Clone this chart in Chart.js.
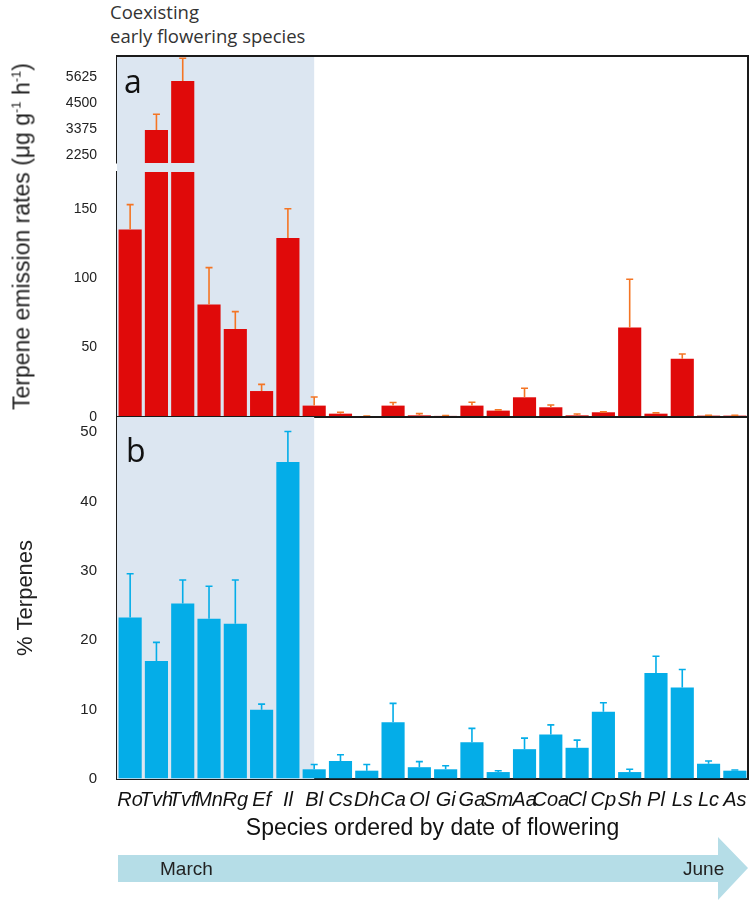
<!DOCTYPE html>
<html>
<head>
<meta charset="utf-8">
<script src="https://cdn.jsdelivr.net/npm/chart.js@4.4.1/dist/chart.umd.min.js"></script>
<style>
  body { margin: 0; background: #fff; }
  #wrap { position: relative; width: 753px; height: 902px; overflow: hidden; font-family: "Liberation Sans", Arial, sans-serif; color: #222; }
  canvas { position: absolute; left: 0; }
  .note { position: absolute; left: 110px; font-family: "Open Sans", sans-serif; font-size: 18.5px; line-height: 24px; color: #333; white-space: nowrap; }
  .panel { position: absolute; font-family: "Open Sans", sans-serif; font-size: 32px; line-height: 32px; color: #111; }
  #ytitleA { position: absolute; width: 420px; left: -191px; top: 221px; text-align: center; font-size: 23px; line-height: 26px; transform: rotate(-90deg); white-space: nowrap; }
  #ytitleA sup { font-size: 13px; vertical-align: 9px; }
  #arrow { position: absolute; left: 0; top: 830px; }
</style>
</head>
<body>
<div id="wrap">
  <div class="note" style="top:0px">Coexisting</div>
  <div class="note" style="top:24px">early flowering species</div>
  <canvas id="chartTop" width="753" height="119" style="top:50px"></canvas>
  <canvas id="chartLow" width="753" height="263" style="top:160px"></canvas>
  <canvas id="chartPct" width="753" height="431" style="top:411px"></canvas>
  <div class="panel" style="left:124px; top:65px">a</div>
  <div class="panel" style="left:126px; top:434px">b</div>
  <div id="ytitleA">Terpene emission rates (μg g<sup>-1</sup> h<sup>-1</sup>)</div>
  <svg id="arrow" width="753" height="72">
    <polygon points="118,25 718,25 718,7 748,38 718,70 718,52 118,52" fill="#b5dde7"></polygon>
    <text x="160" y="45" font-family="Liberation Sans, Arial" font-size="19" fill="#222">March</text>
    <text x="683" y="45" font-family="Liberation Sans, Arial" font-size="19" fill="#222">June</text>
  </svg>
</div>

<script>
// species, ordered by date of flowering
const species = ["Ro", "Tvh", "Tvf", "Mn", "Rg", "Ef", "Il", "Bl", "Cs", "Dh", "Ca", "Ol",
  "Gi", "Ga", "Sm", "Aa", "Coa", "Cl", "Cp", "Sh", "Pl", "Ls", "Lc", "As"];
const shadedUntil = "Bl";

// panel a: terpene emission rates (ug g-1 h-1) and their error
const emission = [135, 3330, 5440, 81, 63.4, 18.7, 129, 8.2, 2.4, 0.4, 8.2, 1.2,
  0.8, 8.2, 4.6, 14.2, 7, 1.2, 3.4, 64.4, 2.4, 42, 1, 1];
const emissionErr = [18, 675, 980, 26.6, 12.5, 4.8, 21, 6.2, 1, 0.2, 2.2, 1.2,
  0.3, 2.4, 0.5, 6.5, 1.6, 1, 0.3, 34.8, 0.6, 3.4, 0.2, 0.2];

// panel b: % terpenes and their error
const terpenePct = [23.3, 17.0, 25.3, 23.1, 22.4, 10.0, 45.7, 1.4, 2.6, 1.2, 8.2, 1.7,
  1.4, 5.3, 1.0, 4.3, 6.4, 4.5, 9.7, 1.0, 15.3, 13.2, 2.2, 1.2];
const terpeneErr = [6.3, 2.7, 3.4, 4.7, 6.3, 0.8, 4.4, 0.7, 0.9, 0.9, 2.7, 0.8,
  0.5, 2.0, 0.2, 1.6, 1.4, 1.1, 1.3, 0.4, 2.4, 2.6, 0.4, 0.1];

// tick labels and axis ranges (panel a has a broken axis)
const upperTicks = [2250, 3375, 4500, 5625];
const upperRange = [1905, 6517];
const lowerTicks = [0, 50, 100, 150];
const lowerRange = [0, 176.5];
const pctTicks = [0, 10, 20, 30, 40, 50];
const pctRange = [0, 52.2];

const red = "#e00a0a";
const orange = "#f47524";
const blue = "#04ade8";
const shade = "#dce6f1";
const frameColor = "#1a1a1a";

// light blue block behind the early flowering species
const shadePlugin = {
  id: "shade",
  beforeDatasetsDraw(chart, args, opts) {
    const { ctx, chartArea: a } = chart;
    const xEnd = chart.scales.x.getPixelForValue(species.indexOf(shadedUntil));
    const up = opts.extendTop || 0;
    ctx.save();
    ctx.fillStyle = shade;
    ctx.fillRect(a.left, a.top - up, xEnd - a.left, a.bottom - a.top + up);
    ctx.restore();
  }
};

// whiskers on top of each bar
const errorPlugin = {
  id: "errorBars",
  afterDatasetsDraw(chart, args, opts) {
    const { ctx, chartArea: a } = chart;
    const y = chart.scales.y;
    const bars = chart.getDatasetMeta(0).data;
    ctx.save();
    ctx.beginPath();
    ctx.rect(a.left, a.top - 1, a.right - a.left, a.bottom - a.top + 1);
    ctx.clip();
    ctx.strokeStyle = opts.color;
    ctx.lineWidth = 1.6;
    bars.forEach((bar, i) => {
      const y0 = y.getPixelForValue(opts.values[i]);
      const y1 = y.getPixelForValue(opts.values[i] + opts.errors[i]);
      ctx.beginPath();
      ctx.moveTo(bar.x, y0);
      ctx.lineTo(bar.x, y1);
      ctx.moveTo(bar.x - 3.5, y1);
      ctx.lineTo(bar.x + 3.5, y1);
      ctx.stroke();
    });
    ctx.restore();
  }
};

// box lines round the plot area
const framePlugin = {
  id: "frame",
  afterDraw(chart, args, opts) {
    const { ctx, chartArea: a } = chart;
    const up = opts.extendTop || 0;
    ctx.save();
    ctx.strokeStyle = frameColor;
    ctx.lineWidth = 2;
    ctx.beginPath();
    (opts.sides || []).forEach((s) => {
      if (s === "top") { ctx.moveTo(a.left - 1, a.top); ctx.lineTo(a.right + 1, a.top); }
      if (s === "right") { ctx.moveTo(a.right, a.top - up); ctx.lineTo(a.right, a.bottom); }
      if (s === "bottom") { ctx.moveTo(a.left - 1, a.bottom); ctx.lineTo(a.right + 1, a.bottom); }
    });
    ctx.stroke();
    ctx.restore();
  }
};

Chart.defaults.font.family = "'Liberation Sans', Arial, sans-serif";
Chart.defaults.color = "#222";

function yAxis(range, ticks, fontSize, title) {
  return {
    min: range[0],
    max: range[1],
    afterBuildTicks: (scale) => { scale.ticks = ticks.map((v) => ({ value: v })); },
    afterFit: (scale) => {
      scale.width = 117;
      scale.paddingTop = 0;
      scale.paddingBottom = 0;
    },
    grid: { drawOnChartArea: false, tickLength: -8, color: frameColor, lineWidth: 1.5 },
    border: { display: true, color: frameColor, width: 2 },
    ticks: { padding: 28, font: { size: fontSize }, color: "#222", callback: (v) => String(v) },
    title: title || { display: false }
  };
}

function makeChart(id, values, errors, barColor, errColor, yOpts, xOpts, extra) {
  return new Chart(document.getElementById(id), {
    type: "bar",
    data: {
      labels: species,
      datasets: [{
        data: values,
        backgroundColor: barColor,
        barPercentage: 0.88,
        categoryPercentage: 1,
        clip: 0
      }]
    },
    options: {
      responsive: false,
      animation: false,
      layout: { autoPadding: false, padding: { top: extra.padTop, bottom: extra.padBottom, right: 5, left: 0 } },
      plugins: {
        legend: { display: false },
        tooltip: { enabled: false },
        shade: { extendTop: extra.extendTop },
        frame: { sides: extra.sides, extendTop: extra.extendTop },
        errorBars: { values, errors, color: errColor }
      },
      scales: { x: xOpts, y: yOpts }
    },
    plugins: [shadePlugin, errorPlugin, framePlugin]
  });
}

// panel a, upper part of the broken axis
makeChart("chartTop", emission, emissionErr, red, orange,
  yAxis(upperRange, upperTicks, 14),
  { display: false },
  { padTop: 6, padBottom: 6, sides: ["top", "right"], extendTop: 0 });

// panel a, lower part
makeChart("chartLow", emission, emissionErr, red, orange,
  yAxis(lowerRange, lowerTicks, 14),
  { display: false },
  { padTop: 12, padBottom: 6, sides: ["right", "bottom"], extendTop: 9 });

// panel b
makeChart("chartPct", terpenePct, terpeneErr, blue, blue,
  yAxis(pctRange, pctTicks, 15, {
    display: true, text: "% Terpenes", font: { size: 22 }, color: "#222", padding: { top: 13, bottom: 0 }
  }),
  {
    afterFit: (scale) => {
      scale.height = 63;
      scale.paddingLeft = 0;
      scale.paddingRight = 0;
    },
    grid: { display: false, drawTicks: false },
    border: { display: true, color: frameColor, width: 2 },
    ticks: { autoSkip: false, maxRotation: 0, minRotation: 0, padding: 9, color: "#111",
      font: { size: 20, style: "italic" } },
    title: { display: true, text: "Species ordered by date of flowering", font: { size: 23 },
      color: "#111", padding: { top: 0, bottom: 0 } }
  },
  { padTop: 6, padBottom: 0, sides: ["right"], extendTop: 0 });
</script>
</body>
</html>
